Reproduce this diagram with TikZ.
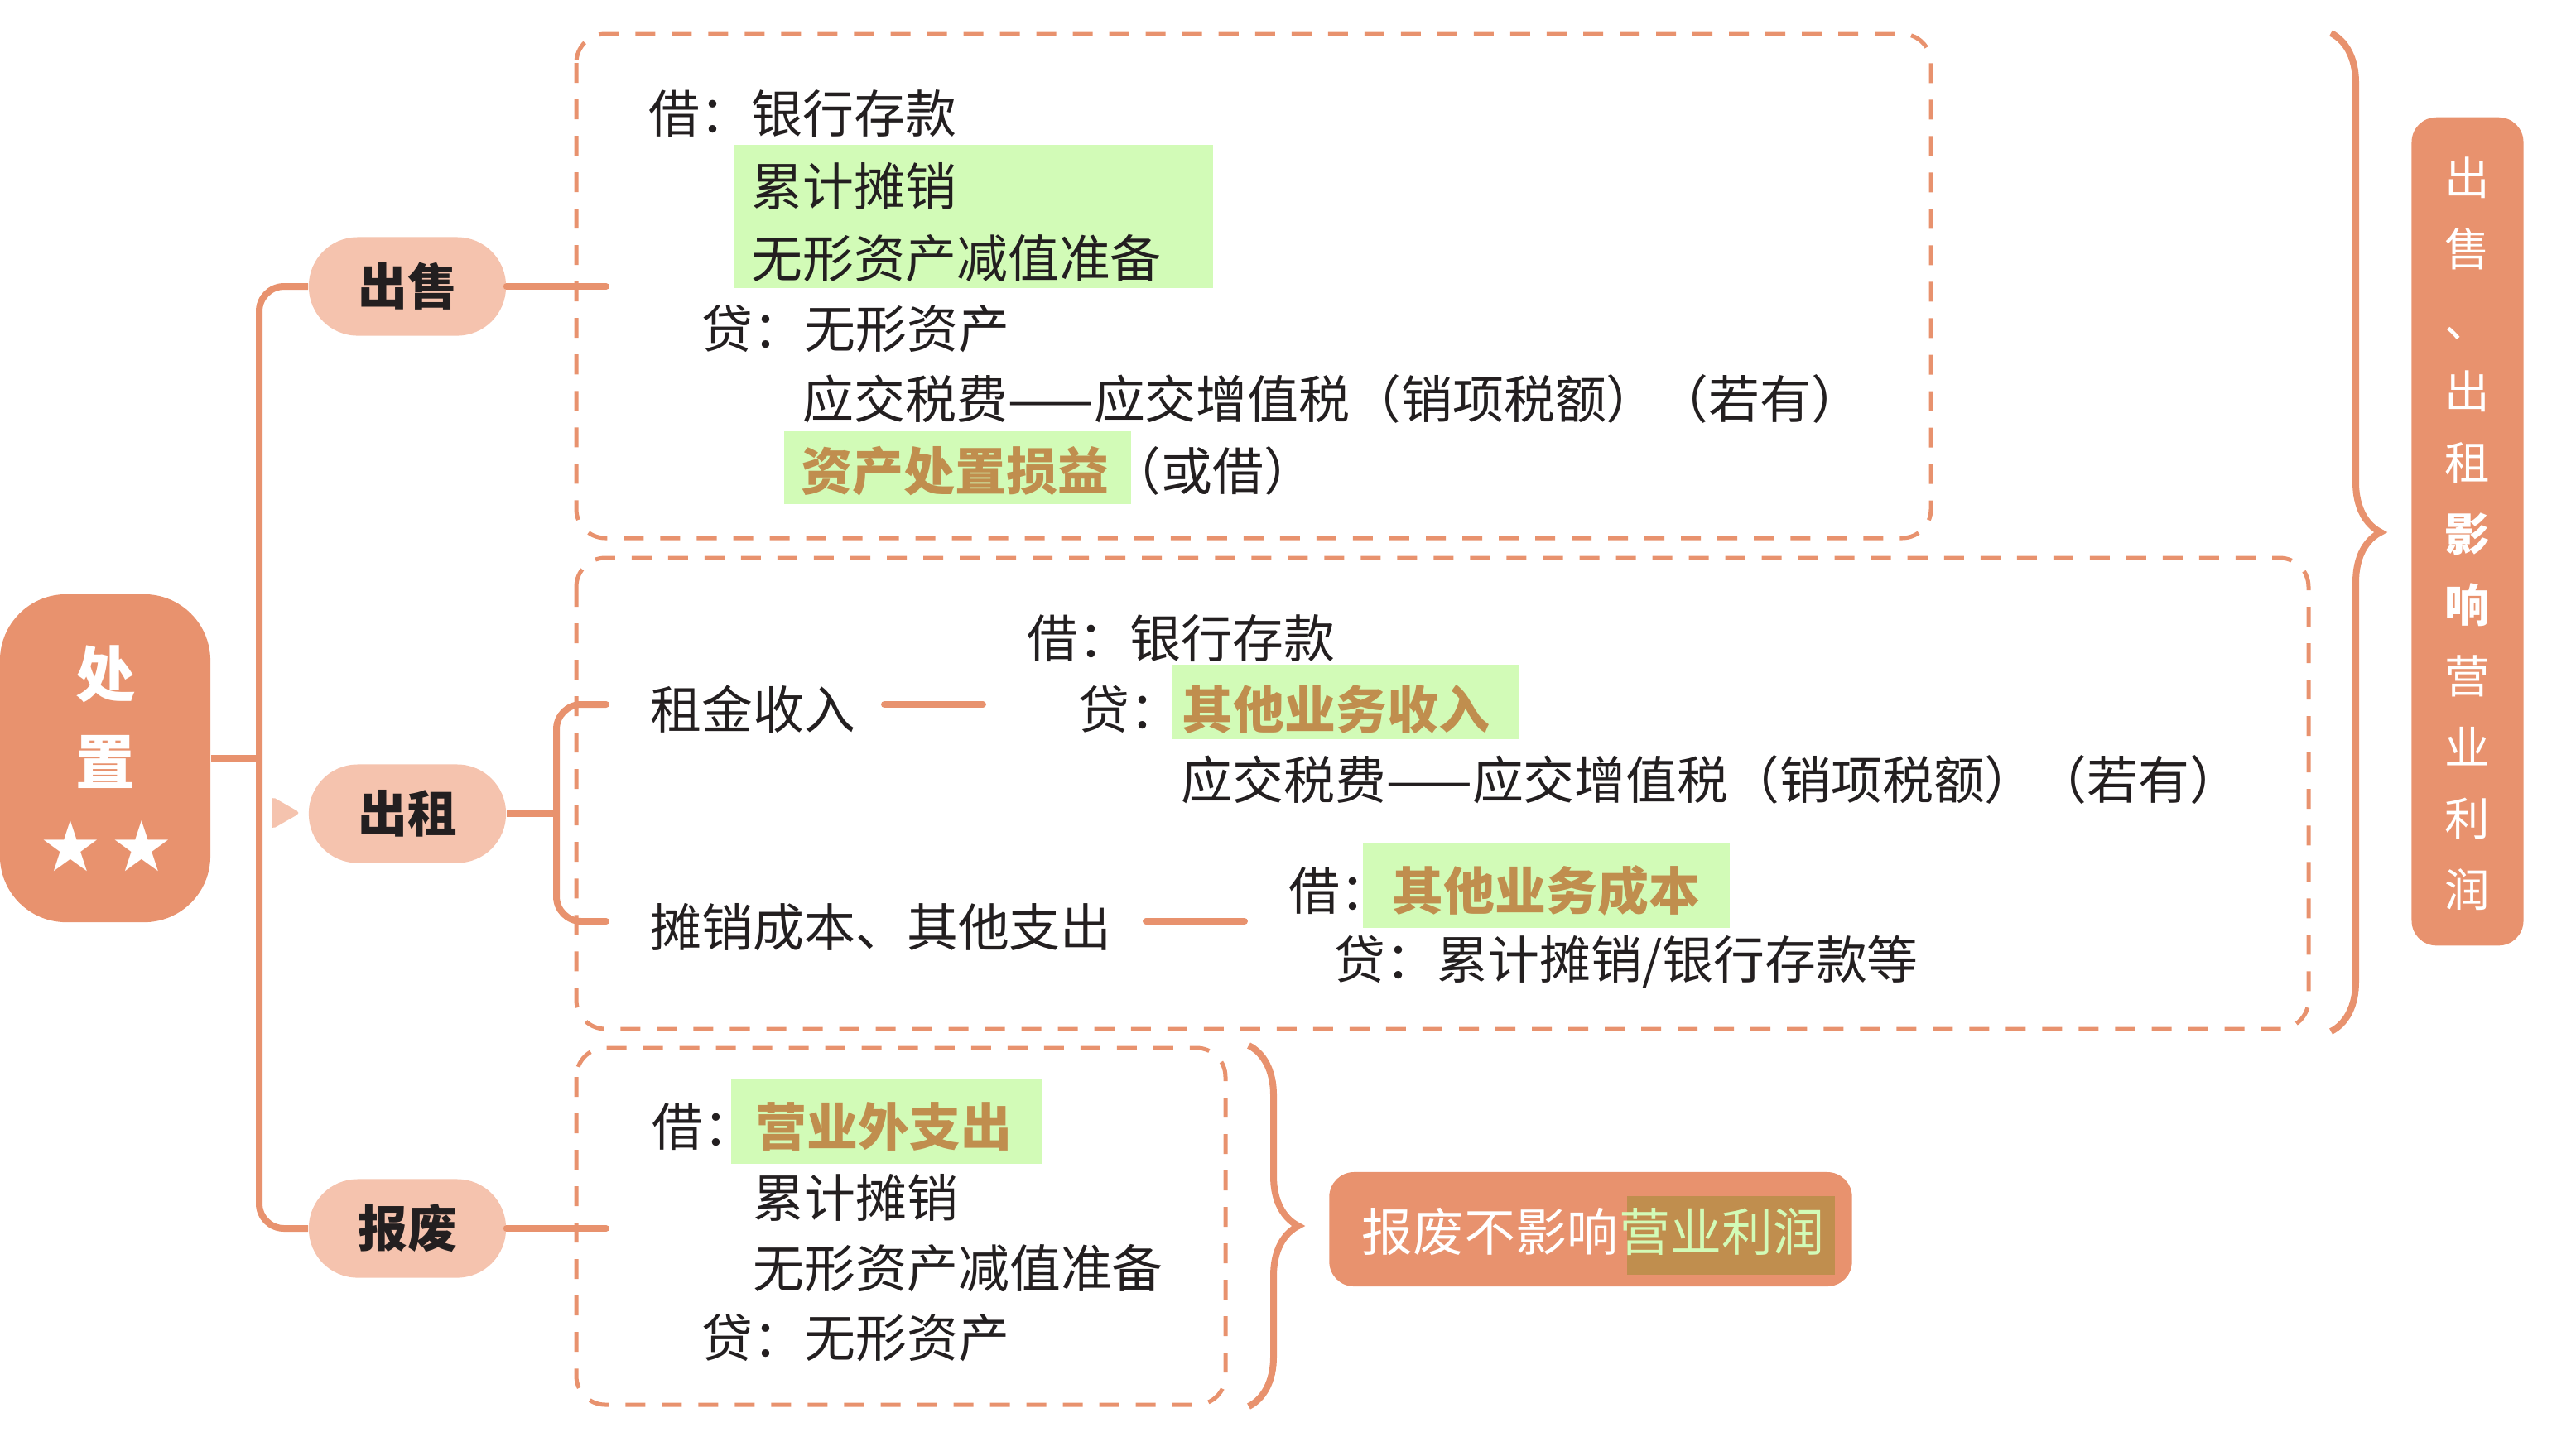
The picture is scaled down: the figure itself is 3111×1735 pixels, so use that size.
\documentclass[tikz,border=0pt]{standalone}
\usepackage{fontspec}
\setmainfont{Noto Sans CJK SC}
\newfontfamily\starfont{DejaVu Sans}
\usetikzlibrary{decorations.pathreplacing}

\definecolor{mapOrange}{HTML}{E8926E}
\definecolor{mapPeach}{HTML}{F5C3AE}
\definecolor{mapGreen}{HTML}{D2FBB7}
\definecolor{mapGold}{HTML}{C08E4E}
\definecolor{mapInk}{HTML}{231F20}

\begin{document}
\begin{tikzpicture}[x=0.01cm, y=-0.01cm,
        entry/.style={anchor=west, inner sep=0pt, text=mapInk, font=\fontsize{17.6pt}{21pt}\selectfont},
        keyword/.style={entry, text=mapGold, font=\fontsize{17.6pt}{21pt}\selectfont\bfseries},
        topic/.style={fill=mapPeach, rounded corners=0.59cm, minimum width=2.38cm, minimum height=1.19cm,
            inner sep=0pt, text=mapInk, font=\fontsize{17pt}{20pt}\selectfont\bfseries},
        link/.style={draw=mapOrange, line width=0.08cm},
        dashbox/.style={draw=mapOrange, line width=0.05cm, dash pattern=on 0.24cm off 0.2cm, rounded corners=0.35cm},
        highlight/.style={fill=mapGreen},
        curly/.style={draw=mapOrange, line width=0.08cm, decorate, decoration={brace, amplitude=0.6cm}}]

        \useasboundingbox (0,0) rectangle (3111,1735);

        % Highlights behind the entries
        \fill[highlight] (887,175) rectangle (1465,348);
        \fill[highlight] (947,521) rectangle (1366,609);
        \fill[highlight] (1416,803) rectangle (1835,893);
        \fill[highlight] (1646,1019) rectangle (2089,1121);
        \fill[highlight] (883,1303) rectangle (1259,1406);

        % Dashed frames
        \draw[dashbox] (696,41) rectangle (2332,650);
        \draw[dashbox] (696,674) rectangle (2788,1243);
        \draw[dashbox] (696,1266) rectangle (1480,1697);

        % Root
        \node[fill=mapOrange, rounded corners=0.8cm, minimum width=2.54cm, minimum height=3.96cm] (root) at (127,916) {};
        \node[text=white, font=\fontsize{20.5pt}{24pt}\selectfont\bfseries] (rootA) at (128,814) {处};
        \node[text=white, font=\fontsize{20.5pt}{24pt}\selectfont\bfseries] (rootB) at (128,920) {置};
        \node[text=white, font=\starfont\fontsize{24pt}{28pt}\selectfont] (star1) at (85,1022) {★};
        \node[text=white, font=\starfont\fontsize{24pt}{28pt}\selectfont] (star2) at (171,1022) {★};

        % Topics
        \node[topic] (sale) at (492,346) {出售};
        \node[topic] (lease) at (492,983) {出租};
        \node[topic] (scrap) at (492,1484) {报废};

        % Trunk and branches
        \coordinate (trunk) at (313,916);
        \draw[link] (root.east) -- (trunk);
        \draw[link, rounded corners=0.3cm] (sale.west) -| (trunk) |- (scrap.west);
        \fill[mapPeach, rounded corners=0.05cm] (328,962) -- (363,982) -- (328,1002) -- cycle;

        \coordinate (saleend) at (732,346);
        \draw[link, line cap=round] (sale.east) -- (saleend);

        \coordinate (leasefork) at (672,983);
        \coordinate (rentend) at (732,851);
        \coordinate (costend) at (732,1113);
        \draw[link] (lease.east) -- (leasefork);
        \draw[link, line cap=round, rounded corners=0.3cm] (rentend) -| (leasefork) |- (costend);

        \coordinate (scrapend) at (732,1484);
        \draw[link, line cap=round] (scrap.east) -- (scrapend);

        % Sale entries
        \node[entry] (s1) at (783,137) {借：银行存款};
        \node[entry] (s2) at (907,225) {累计摊销};
        \node[entry] (s3) at (907,312) {无形资产减值准备};
        \node[entry] (s4) at (847,397) {贷：无形资产};
        \node[entry] (s5) at (969,482) {应交税费——应交增值税（销项税额）（若有）};
        \node[keyword] (s6) at (967,569) {资产处置损益};
        \node[entry] (s7) at (s6.east) {（或借）};

        % Lease entries
        \node[entry] (r1) at (785,857) {租金收入};
        \coordinate (rentA) at (1068,851);
        \coordinate (rentB) at (1187,851);
        \draw[link, line cap=round] (rentA) -- (rentB);
        \node[entry] (r2) at (1240,771) {借：银行存款};
        \node[entry] (r3) at (1302,857) {贷：};
        \node[keyword] (r4) at (r3.east) {其他业务收入};
        \node[entry] (r5) at (1426,942) {应交税费——应交增值税（销项税额）（若有）};

        \node[entry] (c1) at (785,1120) {摊销成本、其他支出};
        \coordinate (costA) at (1384,1113);
        \coordinate (costB) at (1503,1113);
        \draw[link, line cap=round] (costA) -- (costB);
        \node[entry] (c2) at (1556,1076) {借：};
        \node[keyword] (c3) at (c2.east) {其他业务成本};
        \node[entry] (c4) at (1611,1162) {贷：累计摊销/银行存款等};

        % Scrap entries
        \node[entry] (d1) at (787,1361) {借：};
        \node[keyword] (d2) at (d1.east) {营业外支出};
        \node[entry] (d3) at (909,1447) {累计摊销};
        \node[entry] (d4) at (909,1532) {无形资产减值准备};
        \node[entry] (d5) at (847,1616) {贷：无形资产};

        % Summary on the right
        \draw[curly] (2815,40) -- (2815,1246);
        \node[fill=mapOrange, rounded corners=0.3cm, minimum width=1.35cm, minimum height=10cm] (summary) at (2980,642) {};
        \foreach \c [count=\i from 0] in {出,售,、,出,租,{\bfseries 影},{\bfseries 响},营,业,利,润}
            \node[text=white, inner sep=0pt, text height=0.88em, text depth=0.12em,
                font=\fontsize{15.5pt}{18pt}\selectfont] (v\i) at (2980,222+86*\i) {\c};

        % Note for scrapping
        \draw[curly] (1508,1263) -- (1508,1699);
        \node[fill=mapOrange, rounded corners=0.3cm, minimum width=6.31cm, minimum height=1.38cm] (note) at (1921,1485) {};
        \fill[mapGold] (1965,1445) rectangle (2216,1540);
        \node[entry, text=white] (n1) at (1644,1488) {报废不影响};
        \node[entry, text=mapGreen] (n2) at (n1.east) {营业利润};
\end{tikzpicture}
\end{document}
